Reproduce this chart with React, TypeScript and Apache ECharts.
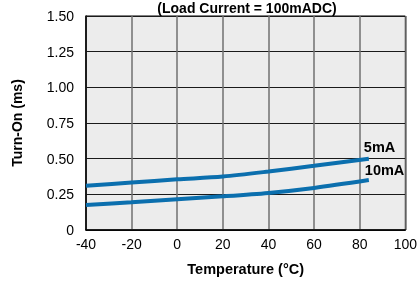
import React, { useEffect, useRef } from "react";
import * as echarts from "echarts";

const temps5mA = [-40, -20, 0, 20, 40, 60, 84];
const values5mA = [0.31, 0.333, 0.355, 0.375, 0.41, 0.45, 0.5];
const temps10mA = [-40, -20, 0, 20, 40, 60, 84];
const values10mA = [0.175, 0.194, 0.216, 0.236, 0.26, 0.295, 0.35];
const seriesNames = ["5mA", "10mA"];
const titleText = "(Load Current = 100mADC)";
const xName = "Temperature (°C)";
const yName = "Turn-On (ms)";

const FONT = "'Liberation Sans', Arial, sans-serif";
const LINE_COLOR = "#0b6fae";

function pairs(temps: number[], vals: number[]) {
  return temps.map((t, i) => [t, vals[i]]);
}

export default function App() {
  const ref = useRef<HTMLDivElement>(null);
  useEffect(() => {
    if (!ref.current) return;
    const chart = echarts.init(ref.current, undefined, { renderer: "svg" });
    const endLabel = (name: string, offset: number[]) => ({
      show: true,
      formatter: () => name,
      offset,
      fontFamily: FONT,
      fontWeight: "bold",
      fontSize: 14.5,
      color: "#000",
    });
    chart.setOption({
      animation: false,
      textStyle: { fontFamily: FONT },
      graphic: [
        {
          type: "text",
          x: 247,
          y: 1,
          style: {
            text: titleText,
            textAlign: "center",
            textVerticalAlign: "top",
            fontFamily: FONT,
            fontWeight: "bold",
            fontSize: 14,
            fill: "#000",
          },
        },
      ],
      grid: {
        left: 86,
        right: 12,
        top: 16,
        bottom: 49.5,
        show: true,
        backgroundColor: "#ececec",
        borderColor: "#000",
        borderWidth: 1,
      },
      xAxis: {
        type: "value",
        min: -40,
        max: 100,
        interval: 20,
        name: xName,
        nameLocation: "middle",
        nameGap: 31,
        nameTextStyle: { fontFamily: FONT, fontWeight: "bold", fontSize: 14.5, color: "#000" },
        axisLine: { show: true, onZero: false, lineStyle: { color: "#000", width: 1.5 } },
        axisTick: { show: false },
        axisLabel: { color: "#000", fontSize: 14, fontFamily: FONT, margin: 7 },
        splitLine: { show: true, lineStyle: { color: "#707070", width: 1.5 } },
      },
      yAxis: {
        type: "value",
        min: 0,
        max: 1.5,
        interval: 0.25,
        name: yName,
        nameLocation: "middle",
        nameGap: 62,
        nameTextStyle: { fontFamily: FONT, fontWeight: "bold", fontSize: 14, color: "#000" },
        axisLine: { show: true, onZero: false, lineStyle: { color: "#000", width: 1.5 } },
        axisTick: { show: false },
        axisLabel: {
          color: "#000",
          fontSize: 14,
          fontFamily: FONT,
          margin: 12,
          formatter: (v: number) => (v === 0 ? "0" : v.toFixed(2)),
        },
        splitLine: { show: true, lineStyle: { color: "#1a1a1a", width: 1 } },
      },
      series: [
        {
          name: seriesNames[0],
          type: "line",
          smooth: 0.3,
          showSymbol: false,
          symbol: "none",
          lineStyle: { color: LINE_COLOR, width: 4 },
          endLabel: endLabel(seriesNames[0], [-13, -12]),
          data: pairs(temps5mA, values5mA),
        },
        {
          name: seriesNames[1],
          type: "line",
          smooth: 0.3,
          showSymbol: false,
          symbol: "none",
          lineStyle: { color: LINE_COLOR, width: 4 },
          endLabel: endLabel(seriesNames[1], [-12, -10]),
          data: pairs(temps10mA, values10mA),
        },
      ],
    });
    return () => chart.dispose();
  }, []);
  return (
    <div
      ref={ref}
      style={{ position: "fixed", left: 0, top: 0, width: 420, height: 281 }}
    />
  );
}
